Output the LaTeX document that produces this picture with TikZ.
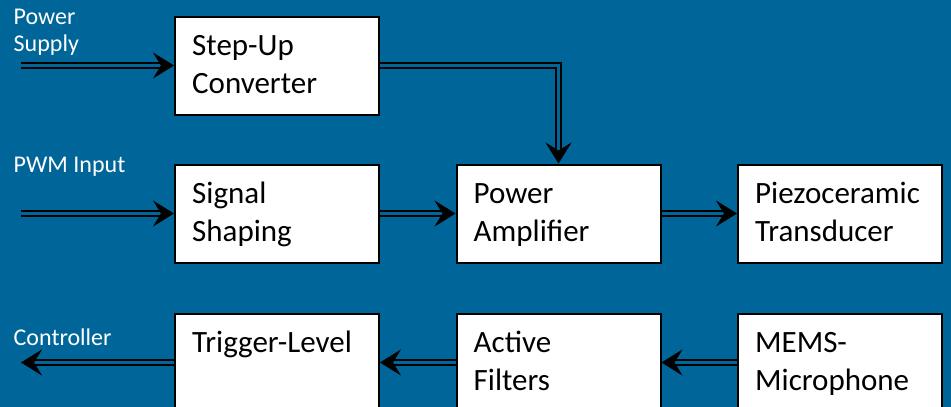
\documentclass[tikz,border=0pt]{standalone}
\usepackage{fontspec}
\setmainfont{Carlito}
\usetikzlibrary{arrows.meta,calc}
\definecolor{bgblue}{RGB}{0,102,153}
\tikzset{
  block/.style={draw=black, fill=white, line width=2pt, minimum width=204pt,
    minimum height=98pt, inner sep=0pt},
  blocktext/.style={anchor=base west, inner sep=0pt, align=left,
    font=\fontsize{31}{37.5}\selectfont},
  sidelabel/.style={anchor=base west, inner sep=0pt, align=left, text=white,
    font=\fontsize{24}{27.5}\selectfont},
  dbl/.style={draw=black, line width=1.9pt, double=bgblue,
    double distance=3pt, shorten >=12pt},
  headtip/.style={-{Stealth[length=21pt,width=26pt,inset=8pt]},
    line width=0.6pt, draw=black, fill=black},
}

\begin{document}
\begin{tikzpicture}[x=1pt,y=-1pt]
\useasboundingbox (0,0) rectangle (951,407);
\clip (0,0) rectangle (951,407);
\fill[bgblue] (0,0) rectangle (951,407);

% blocks
\node[block] (su) at (277,65.5) {};
\node[block] (ss) at (277,213.5) {};
\node[block] (pa) at (558.5,213.5) {};
\node[block] (pz) at (840,213.5) {};
\node[block] (tl) at (277,362.5) {};
\node[block] (af) at (558.5,362.5) {};
\node[block] (mm) at (840,362.5) {};

% block captions (anchored on the baseline of the last line)
\node[blocktext] (sut) at ([xshift=18pt,yshift=-77.5pt]su.north west) {Step-Up\\Converter};
\node[blocktext] (sst) at ([xshift=18pt,yshift=-77.5pt]ss.north west) {Signal\\Shaping};
\node[blocktext] (pat) at ([xshift=18pt,yshift=-77.5pt]pa.north west) {Power\\Amplifier};
\node[blocktext] (pzt) at ([xshift=18pt,yshift=-77.5pt]pz.north west) {Piezoceramic\\Transducer};
\node[blocktext] (tlt) at ([xshift=18pt,yshift=-40pt]tl.north west) {Trigger-Level};
\node[blocktext] (aft) at ([xshift=18pt,yshift=-77.5pt]af.north west) {Active\\Filters};
\node[blocktext] (mmt) at ([xshift=18pt,yshift=-77.5pt]mm.north west) {MEMS-\\Microphone};

% side labels
\node[sidelabel] (psl) at (13.5,51.5) {Power\\Supply};
\node[sidelabel] (pwml) at (13.5,172) {PWM Input};
\node[sidelabel] (ctll) at (13.5,345.5) {Controller};

% free ends of the outer connectors
\coordinate (psin) at (21,65.5);
\coordinate (pwmin) at (21,213.5);
\coordinate (ctl) at (21,362.5);

% connectors: double shaft plus a solid head
\draw[dbl] (psin) -- (su.west);
\draw[headtip] ([xshift=-11pt]su.west) -- (su.west);

\draw[dbl] (su.east) -| (pa.north);
\draw[headtip] ([yshift=11pt]pa.north) -- (pa.north);

\draw[dbl] (pwmin) -- (ss.west);
\draw[headtip] ([xshift=-11pt]ss.west) -- (ss.west);

\draw[dbl] (ss.east) -- (pa.west);
\draw[headtip] ([xshift=-11pt]pa.west) -- (pa.west);

\draw[dbl] (pa.east) -- (pz.west);
\draw[headtip] ([xshift=-11pt]pz.west) -- (pz.west);

\draw[dbl] (mm.west) -- (af.east);
\draw[headtip] ([xshift=11pt]af.east) -- (af.east);

\draw[dbl] (af.west) -- (tl.east);
\draw[headtip] ([xshift=11pt]tl.east) -- (tl.east);

\draw[dbl] (tl.west) -- (ctl);
\draw[headtip] ([xshift=11pt]ctl) -- (ctl);
\end{tikzpicture}
\end{document}
